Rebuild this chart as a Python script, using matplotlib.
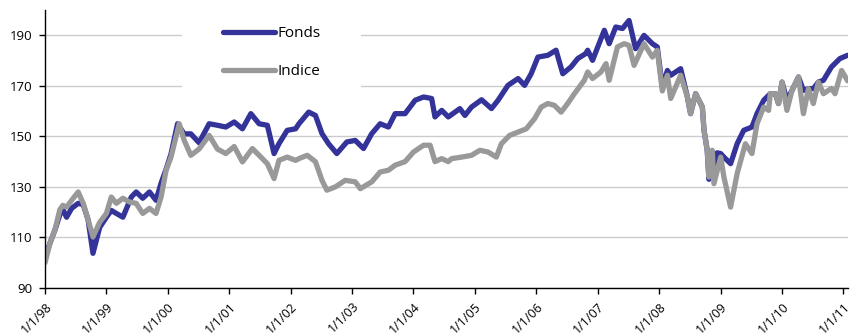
import numpy as np
import matplotlib
matplotlib.use('Agg')
import matplotlib.pyplot as plt
import matplotlib.dates as mdates
from matplotlib.patches import Rectangle
from matplotlib.ticker import FuncFormatter

plt.rcParams['font.family'] = ['Open Sans', 'DejaVu Sans']

# Fonds (fund) performance, base 100 on 1/1/98
fonds_dates = ['1998-01-01', '1998-01-30', '1998-03-01', '1998-03-30', '1998-04-17', '1998-05-09',
               '1998-06-08', '1998-07-17', '1998-08-16', '1998-09-14', '1998-10-13', '1998-11-22',
               '1999-01-01', '1999-01-30', '1999-03-01', '1999-04-09', '1999-05-29', '1999-06-27',
               '1999-08-05', '1999-09-14', '1999-10-23', '1999-11-22', '1999-12-22', '2000-01-20',
               '2000-02-28', '2000-04-07', '2000-05-17', '2000-07-05', '2000-09-03', '2000-10-22',
               '2000-12-11', '2001-01-30', '2001-03-20', '2001-05-09', '2001-06-27', '2001-08-15',
               '2001-09-24', '2001-10-23', '2001-12-11', '2002-01-30', '2002-02-19', '2002-04-18',
               '2002-05-28', '2002-07-06', '2002-08-14', '2002-10-02', '2002-12-01', '2003-01-20',
               '2003-03-10', '2003-04-28', '2003-06-17', '2003-08-05', '2003-09-14', '2003-11-12',
               '2004-01-11', '2004-03-01', '2004-04-18', '2004-05-08', '2004-05-28', '2004-06-17',
               '2004-07-26', '2004-10-03', '2004-11-02', '2004-12-11', '2005-02-09', '2005-04-09',
               '2005-05-18', '2005-07-16', '2005-09-14', '2005-10-23', '2005-12-01', '2006-01-10',
               '2006-03-10', '2006-04-28', '2006-06-07', '2006-07-26', '2006-09-04', '2006-10-22',
               '2006-11-02', '2006-12-01', '2007-01-01', '2007-02-09', '2007-03-10', '2007-04-18',
               '2007-05-28', '2007-07-06', '2007-08-14', '2007-10-03', '2007-11-22', '2007-12-21',
               '2008-01-20', '2008-02-19', '2008-03-10', '2008-05-08', '2008-06-17', '2008-07-06',
               '2008-08-05', '2008-09-14', '2008-09-24', '2008-10-13', '2008-10-23', '2008-11-12',
               '2008-11-22', '2008-12-11', '2009-01-01', '2009-01-20', '2009-03-01', '2009-04-09',
               '2009-05-18', '2009-07-06', '2009-08-05', '2009-09-14', '2009-10-23', '2009-11-22',
               '2009-12-11', '2010-01-01', '2010-01-30', '2010-03-01', '2010-04-09', '2010-05-08',
               '2010-06-07', '2010-07-06', '2010-08-05', '2010-09-04', '2010-10-22', '2010-12-11',
               '2011-01-26']
fonds_vals = [102, 107.7, 113, 119, 121, 118,
              121.5, 123.5, 123, 117, 103.7, 114,
              118, 120.7, 119.5, 118, 126, 128,
              125.5, 128, 124.7, 131.5, 137, 143,
              155, 151, 151, 147.5, 155, 154.4,
              153.7, 155.7, 153, 159, 155, 154.4,
              143.2, 147.1, 152.4, 153, 155, 159.6,
              158.3, 151.1, 147.1, 143.2, 147.8, 148.4,
              145.2, 151.1, 155, 153.7, 159, 159,
              164.3, 165.6, 165, 157.7, 159, 160.3,
              157.7, 161, 158.3, 161.6, 164.5, 161,
              164.3, 170.2, 172.9, 170.2, 174.8, 181.4,
              182.1, 184.1, 174.8, 177.5, 180.8, 182.8,
              184.1, 180.1, 185.4, 192, 186.7, 193.3,
              192.7, 195.9, 184.7, 190, 186.7, 185.4,
              169.5, 176.1, 174.2, 176.8, 165.6, 159,
              166.9, 161.6, 152.4, 144.5, 133, 143,
              134, 143.5, 143.2, 141.8, 139.2, 147.1,
              152.4, 153.7, 159, 164.3, 166.9, 166.9,
              163, 171.5, 164.3, 168.2, 173.5, 168.2,
              168.9, 168.9, 171.5, 172.2, 177.5, 180.8,
              182.1]

# Indice (benchmark index), base 100 on 1/1/98
indice_dates = ['1998-01-01', '1998-01-30', '1998-03-01', '1998-03-30', '1998-04-17', '1998-05-09',
                '1998-06-08', '1998-07-17', '1998-08-16', '1998-09-14', '1998-10-13', '1998-11-22',
                '1999-01-01', '1999-01-30', '1999-03-01', '1999-04-09', '1999-05-19', '1999-06-27',
                '1999-08-05', '1999-09-14', '1999-10-23', '1999-11-22', '1999-12-22', '2000-01-20',
                '2000-03-09', '2000-04-07', '2000-05-17', '2000-07-05', '2000-09-03', '2000-10-22',
                '2000-12-11', '2001-01-30', '2001-03-20', '2001-05-18', '2001-06-27', '2001-08-15',
                '2001-09-24', '2001-10-23', '2001-12-11', '2002-01-30', '2002-02-19', '2002-04-09',
                '2002-05-28', '2002-07-06', '2002-08-04', '2002-09-23', '2002-11-21', '2003-01-20',
                '2003-02-19', '2003-04-28', '2003-06-17', '2003-08-05', '2003-09-14', '2003-11-12',
                '2004-01-01', '2004-03-01', '2004-04-09', '2004-05-08', '2004-06-17', '2004-07-26',
                '2004-08-15', '2004-10-13', '2004-12-11', '2005-01-30', '2005-03-20', '2005-05-08',
                '2005-06-07', '2005-07-26', '2005-09-14', '2005-11-02', '2005-12-21', '2006-01-30',
                '2006-03-10', '2006-04-18', '2006-05-28', '2006-07-06', '2006-08-15', '2006-10-13',
                '2006-11-02', '2006-12-01', '2007-01-20', '2007-02-19', '2007-03-10', '2007-04-28',
                '2007-06-07', '2007-07-06', '2007-08-05', '2007-10-03', '2007-11-22', '2007-12-21',
                '2008-01-20', '2008-02-19', '2008-03-10', '2008-05-08', '2008-06-17', '2008-07-06',
                '2008-08-05', '2008-09-14', '2008-09-24', '2008-10-13', '2008-10-23', '2008-11-12',
                '2008-11-22', '2009-01-01', '2009-01-20', '2009-03-01', '2009-04-09', '2009-05-28',
                '2009-07-06', '2009-08-05', '2009-09-14', '2009-10-13', '2009-10-23', '2009-11-22',
                '2009-12-11', '2010-01-01', '2010-01-30', '2010-03-01', '2010-04-09', '2010-05-08',
                '2010-06-07', '2010-07-06', '2010-08-05', '2010-09-04', '2010-10-22', '2010-11-12',
                '2010-12-21', '2011-01-26']
indice_vals = [100, 107.7, 113, 121, 122.7, 122,
               124.7, 128, 123.5, 117, 110.2, 116,
               119.5, 126, 123.5, 125.5, 124, 123.5,
               119.5, 121.5, 119.5, 126, 136.6, 141.8,
               155, 148.5, 142.5, 145, 150.4, 145,
               143.2, 146, 139.9, 145.2, 142.5, 139.2,
               133.3, 140.5, 141.8, 140.5, 141.2, 142.5,
               140, 132.6, 128.7, 130, 132.6, 132,
               129.3, 132, 135.9, 136.6, 138.6, 140,
               143.8, 146.5, 146.5, 140, 141.2, 140,
               141.2, 141.8, 142.5, 144.5, 143.8, 141.8,
               147.1, 150.4, 151.7, 153, 157, 161.6,
               163, 162.3, 159.6, 163, 166.9, 172.2,
               175.5, 172.9, 175.5, 178.8, 172.2, 185.4,
               186.7, 186, 178.1, 186.7, 181.4, 184.1,
               168, 174.2, 165, 174.2, 165.6, 159,
               166.9, 161.6, 152.4, 144.5, 133.9, 144.5,
               131.3, 141.8, 134, 122, 135.3, 147.1,
               143.2, 155, 161.6, 160.3, 166.9, 166.9,
               163, 171.5, 160.3, 168.2, 173.5, 159,
               168.9, 163, 171.5, 166.9, 169, 166.9,
               176.1, 172]

fonds_x = np.array(fonds_dates, dtype='datetime64[D]')
indice_x = np.array(indice_dates, dtype='datetime64[D]')

fig = plt.figure(figsize=(8.5, 3.36), dpi=100)
ax = fig.add_axes([0.053, 0.143, 0.945, 0.827])

ax.plot(fonds_x, fonds_vals, color='#333399', lw=3.8, label='Fonds',
        solid_joinstyle='round', solid_capstyle='round', zorder=3)
ax.plot(indice_x, indice_vals, color='#999999', lw=3.8, label='Indice',
        solid_joinstyle='round', solid_capstyle='round', zorder=4)

ax.set_ylim(90, 200)
ax.set_yticks([90, 110, 130, 150, 170, 190])
ax.set_xlim(np.datetime64('1998-01-01'), np.datetime64('2011-01-30'))
ax.xaxis.set_major_locator(mdates.YearLocator())
ax.xaxis.set_major_formatter(FuncFormatter(
    lambda v, pos: '{d.month}/{d.day}/{d:%y}'.format(d=mdates.num2date(v))))

ax.grid(axis='y', color='#cccccc', lw=1.0, zorder=0)
ax.set_axisbelow(True)
for s in ['top', 'right']:
    ax.spines[s].set_visible(False)
for s in ['left', 'bottom']:
    ax.spines[s].set_linewidth(1.0)
    ax.spines[s].set_zorder(5)

ax.tick_params(axis='both', length=4, width=1, labelsize=9.5, color='black')
ax.tick_params(axis='y', pad=5)
ax.tick_params(axis='x', pad=4.5, labelsize=9)
plt.setp(ax.get_xticklabels(), rotation=45, ha='right', va='top', rotation_mode='anchor')

# white box behind the legend cuts the gridlines
ax.add_patch(Rectangle((0.171, 0.68), 0.222, 0.32, transform=ax.transAxes,
                       facecolor='white', edgecolor='none', zorder=1))

ax.legend(loc='upper left', bbox_to_anchor=(0.222, 0.942), frameon=False,
          fontsize=11, handlelength=3.4, handletextpad=0.15, labelspacing=1.5,
          borderpad=0, borderaxespad=0)

fig.savefig('out.png', dpi=100)
